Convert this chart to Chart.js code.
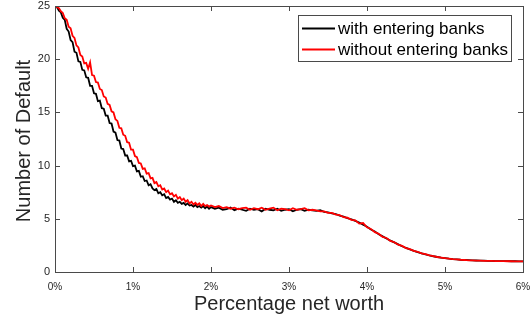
<!DOCTYPE html>
<html>
<head>
<meta charset="utf-8">
<script src="https://cdn.jsdelivr.net/npm/chart.js@4/dist/chart.umd.min.js"></script>
<style>
  html, body { margin: 0; padding: 0; background: #fff; }
  #wrap { width: 530px; height: 322px; position: relative; }
</style>
</head>
<body>
<div id="wrap"><canvas id="c" width="530" height="322"></canvas></div>
<script>
// ---- data ----
const netWorthPct = [
  0.000,0.025,0.050,0.075,0.100,0.125,0.150,0.175,0.200,0.225,
  0.250,0.275,0.300,0.325,0.350,0.375,0.400,0.425,0.450,0.475,
  0.500,0.525,0.550,0.575,0.600,0.625,0.650,0.675,0.700,0.725,
  0.750,0.775,0.800,0.825,0.850,0.875,0.900,0.925,0.950,0.975,
  1.000,1.025,1.050,1.075,1.100,1.125,1.150,1.175,1.200,1.225,
  1.250,1.275,1.300,1.325,1.350,1.375,1.400,1.425,1.450,1.475,
  1.500,1.525,1.550,1.575,1.600,1.625,1.650,1.675,1.700,1.725,
  1.750,1.775,1.800,1.825,1.850,1.875,1.900,1.925,1.950,1.975,
  2.000,
  2.05,2.10,2.15,2.20,2.25,2.30,2.35,2.40,2.45,2.50,
  2.55,2.60,2.65,2.70,2.75,2.80,2.85,2.90,2.95,3.00,
  3.05,3.10,3.15,3.20,3.25,3.30,3.35,3.40,3.45,3.50,
  3.55,3.60,3.65,3.70,3.75,3.80,3.85,3.90,3.95,4.00,
  4.05,4.10,4.15,4.20,4.25,4.30,4.35,4.40,4.45,4.50,
  4.55,4.60,4.65,4.70,4.75,4.80,4.85,4.90,4.95,5.00,
  5.05,5.10,5.15,5.20,5.25,5.30,5.35,5.40,5.45,5.50,
  5.55,5.60,5.65,5.70,5.75,5.80,5.85,5.90,5.95,6.00
];
const withEntering = [
  25.0,24.9,24.55,24.4,23.9,23.7,22.85,22.6,21.8,21.6,
  20.7,20.6,19.8,19.75,19.0,18.95,18.3,18.25,17.5,17.5,
  16.8,16.75,16.05,16.1,15.4,15.35,14.7,14.7,14.0,13.95,
  13.2,13.1,12.4,12.35,11.6,11.55,10.95,10.95,10.4,10.45,
  9.95,10.0,9.45,9.5,8.95,9.0,8.55,8.6,8.15,8.25,
  7.85,7.7,7.8,7.4,7.5,7.2,7.3,6.95,7.05,6.8,
  6.9,6.6,6.75,6.5,6.6,6.4,6.5,6.3,6.45,6.25,
  6.3,6.15,6.3,6.1,6.2,6.05,6.2,6.0,6.15,5.95,
  6.1,
  5.95,6.05,5.85,5.9,6.05,5.8,5.95,5.85,5.75,5.95,
  5.85,5.9,5.7,5.95,5.85,5.8,5.95,5.75,5.85,5.9,
  5.7,5.85,5.9,5.75,5.85,5.8,5.75,5.8,5.65,5.6,
  5.5,5.45,5.3,5.2,5.05,4.95,4.8,4.65,4.45,4.25,
  4.0,3.8,3.55,3.35,3.15,2.95,2.78,2.6,2.42,2.26,
  2.12,1.99,1.87,1.76,1.65,1.56,1.48,1.41,1.35,1.3,
  1.25,1.21,1.18,1.15,1.13,1.11,1.09,1.08,1.07,1.06,
  1.05,1.04,1.03,1.03,1.02,1.02,1.01,1.01,1.0,1.0
];
const withoutEntering = [
  25.0,24.9,24.8,24.5,24.35,23.85,23.7,23.05,22.9,22.2,
  22.0,21.3,21.1,20.4,20.25,19.6,19.65,19.1,19.7,18.5,
  18.45,17.85,17.8,17.2,17.1,16.5,16.4,15.8,15.7,15.1,
  15.0,14.35,14.2,13.55,13.5,12.9,12.8,12.2,12.15,11.5,
  11.5,10.9,10.8,10.25,10.2,9.7,9.75,9.25,9.3,8.8,
  8.85,8.35,8.45,8.05,8.15,7.75,7.85,7.5,7.65,7.3,
  7.4,7.1,7.25,6.9,7.05,6.75,6.9,6.6,6.75,6.45,
  6.6,6.35,6.5,6.3,6.45,6.2,6.4,6.2,6.3,6.15,
  6.25,
  6.1,6.2,6.0,6.1,5.95,6.05,5.9,6.0,6.05,5.85,
  6.0,5.9,6.05,5.85,5.95,6.05,5.8,5.95,5.9,5.8,
  6.0,5.85,5.9,6.0,5.8,5.85,5.8,5.7,5.7,5.55,
  5.55,5.4,5.35,5.15,5.1,4.9,4.85,4.55,4.6,4.2,
  4.05,3.75,3.6,3.3,3.2,2.92,2.8,2.57,2.45,2.25,
  2.15,1.98,1.9,1.76,1.68,1.56,1.5,1.41,1.36,1.3,
  1.26,1.21,1.19,1.15,1.13,1.1,1.09,1.07,1.06,1.05,
  1.05,1.04,1.03,1.03,1.02,1.01,1.01,1.0,1.0,1.0
];
const seriesLabels = ['with entering banks', 'without entering banks'];
const xTickValues = [0, 1, 2, 3, 4, 5, 6];
const yTickValues = [0, 5, 10, 15, 20, 25];
const xTitle = 'Percentage net worth';
const yTitle = 'Number of Default';

const FONT = '"Liberation Sans", Arial, Helvetica, sans-serif';
const AXIS_COLOR = '#4a4a4a';
const TEXT_COLOR = '#262626';

const toPoints = (ys) => netWorthPct.map((x, i) => ({ x: x, y: ys[i] }));

// frame + inward ticks on all four sides, titles, and boxed legend
const matlabAxes = {
  id: 'matlabAxes',
  afterDatasetsDraw(chart) {
    const { ctx, chartArea: a, scales } = chart;
    const xs = scales.x, ys = scales.y;
    ctx.save();
    ctx.strokeStyle = AXIS_COLOR;
    ctx.lineWidth = 1;
    ctx.strokeRect(Math.round(a.left) + 0.5, Math.round(a.top) + 0.5,
                   Math.round(a.right - a.left), Math.round(a.bottom - a.top));
    const TL = 5;
    ctx.beginPath();
    xTickValues.forEach(v => {
      const px = Math.round(xs.getPixelForValue(v)) + 0.5;
      ctx.moveTo(px, a.bottom); ctx.lineTo(px, a.bottom - TL);
      ctx.moveTo(px, a.top); ctx.lineTo(px, a.top + TL);
    });
    yTickValues.forEach(v => {
      const py = Math.round(ys.getPixelForValue(v)) + 0.5;
      ctx.moveTo(a.left, py); ctx.lineTo(a.left + TL, py);
      ctx.moveTo(a.right, py); ctx.lineTo(a.right - TL, py);
    });
    ctx.stroke();

    // axis titles
    ctx.fillStyle = TEXT_COLOR;
    ctx.font = '20px ' + FONT;
    ctx.textAlign = 'center';
    ctx.textBaseline = 'middle';
    ctx.fillText(xTitle, (a.left + a.right) / 2, 304);
    ctx.save();
    ctx.translate(24, (a.top + a.bottom) / 2 + 2);
    ctx.rotate(-Math.PI / 2);
    ctx.fillText(yTitle, 0, 0);
    ctx.restore();

    // legend
    const lx = 298.5, ly = 15.5, lw = 213, lh = 46;
    ctx.fillStyle = '#ffffff';
    ctx.fillRect(lx, ly, lw, lh);
    ctx.strokeStyle = AXIS_COLOR;
    ctx.strokeRect(lx, ly, lw, lh);
    ctx.font = '17px ' + FONT;
    ctx.textAlign = 'left';
    const ds = chart.data.datasets;
    const rows = [28.5, 49.5];
    ds.forEach((d, i) => {
      ctx.strokeStyle = d.borderColor;
      ctx.lineWidth = 2;
      ctx.beginPath();
      ctx.moveTo(302, rows[i]); ctx.lineTo(335, rows[i]);
      ctx.stroke();
      ctx.fillStyle = '#000';
      ctx.fillText(d.label, 338, rows[i] + 1);
    });
    ctx.restore();
  }
};

const zeroPad = (s) => { s.paddingLeft = 0; s.paddingRight = 0; s.paddingTop = 0; s.paddingBottom = 0; };

new Chart(document.getElementById('c'), {
  type: 'line',
  data: {
    datasets: [
      { label: seriesLabels[0], data: toPoints(withEntering), borderColor: '#000000',
        borderWidth: 1.8, pointRadius: 0, tension: 0, order: 1 },
      { label: seriesLabels[1], data: toPoints(withoutEntering), borderColor: '#ff0000',
        borderWidth: 1.8, pointRadius: 0, tension: 0, order: 0 }
    ]
  },
  options: {
    responsive: false,
    animation: false,
    devicePixelRatio: 1,
    layout: { padding: { left: 0, right: 7, top: 6, bottom: 0 } },
    plugins: { legend: { display: false }, tooltip: { enabled: false } },
    scales: {
      x: {
        type: 'linear', min: 0, max: 6,
        afterBuildTicks: (s) => { s.ticks = xTickValues.map(v => ({ value: v })); },
        afterFit: (s) => { s.height = 50; zeroPad(s); },
        grid: { display: false, drawTicks: false },
        border: { display: false },
        ticks: { padding: 9, color: TEXT_COLOR, font: { family: FONT, size: 10 },
                 maxRotation: 0, callback: (v) => v + '%' }
      },
      y: {
        type: 'linear', min: 0, max: 25,
        afterBuildTicks: (s) => { s.ticks = yTickValues.map(v => ({ value: v })); },
        afterFit: (s) => { s.width = 55; zeroPad(s); },
        grid: { display: false, drawTicks: false },
        border: { display: false },
        ticks: { padding: 5, color: TEXT_COLOR, font: { family: FONT, size: 11 } }
      }
    }
  },
  plugins: [matlabAxes]
});
</script>
</body>
</html>
